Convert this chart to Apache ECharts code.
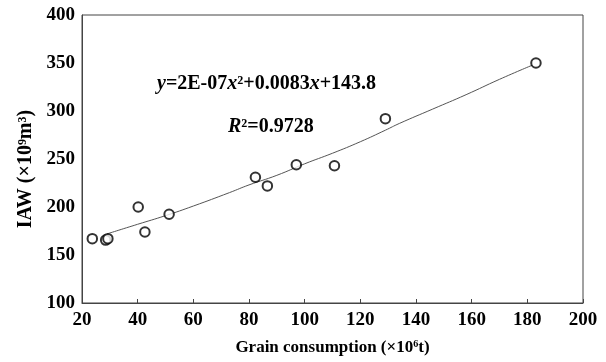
<!DOCTYPE html>
<html><head><meta charset="utf-8">
<script src="https://cdn.jsdelivr.net/npm/echarts@6/dist/echarts.min.js"></script>
<style>html,body{margin:0;padding:0;background:#fff}#c{width:606px;height:362px}</style>
</head><body><div id="c"></div>
<script>
// Observed data: grain consumption (x) vs IAW (y)
const grainX = [23.7, 28.5, 29.3, 40.2, 42.6, 51.3, 82.3, 86.6, 97.0, 110.7, 129.0, 183.1];
const iawY   = [167, 165.5, 167, 200, 174, 192.5, 231, 222, 244, 243, 292, 350];
// Trendline
const trendX = [29, 40, 50, 60, 73, 80, 90, 100, 110, 120, 129, 134, 146, 158, 170, 182];
const trendY = [172, 182, 191, 201, 215, 223, 233, 245, 256, 268, 280, 287, 302, 317, 333, 348];
const xTicks = {min: 20, max: 200, interval: 20};
const yTicks = {min: 100, max: 400, interval: 50};
const equationText = ['y', '=2E-07', 'x', '²+0.0083', 'x', '+143.8'];
const r2Text = ['R', '²=0.9728'];
const xName = 'Grain consumption (×10⁶t)';
const yName = 'IAW (×10⁹m³)';

const font = 'Liberation Serif';
const chart = echarts.init(document.getElementById('c'), null, {renderer: 'canvas'});
const scatterData = grainX.map((x, i) => [x, iawY[i]]);
const trendData = trendX.map((x, i) => [x, trendY[i]]);
const eqRich = equationText.map((t, i) => (i % 2 === 0 ? '{i|' + t + '}' : '{n|' + t + '}')).join('');
const r2Rich = '{i|' + r2Text[0] + '}{n|' + r2Text[1] + '}';
const richStyles = {
  i: {fontFamily: font, fontStyle: 'italic', fontWeight: 'bold', fontSize: 20, fill: '#000'},
  n: {fontFamily: font, fontWeight: 'bold', fontSize: 20, fill: '#000'}
};
chart.setOption({
  animation: false,
  backgroundColor: '#fff',
  grid: {left: 82, top: 15, right: 23, bottom: 59, show: true, borderColor: '#444', borderWidth: 1, backgroundColor: 'transparent'},
  xAxis: {
    type: 'value', min: xTicks.min, max: xTicks.max, interval: xTicks.interval,
    name: xName, nameLocation: 'middle', nameGap: 36,
    nameTextStyle: {fontFamily: font, fontWeight: 'bold', fontSize: 17, color: '#000'},
    axisLine: {lineStyle: {color: '#444', width: 1}},
    axisTick: {show: true, inside: true, length: 4, lineStyle: {color: '#444'}},
    axisLabel: {fontFamily: font, fontWeight: 'bold', fontSize: 19, color: '#000', margin: 8},
    splitLine: {show: false}
  },
  yAxis: {
    type: 'value', min: yTicks.min, max: yTicks.max, interval: yTicks.interval,
    axisLine: {show: true, lineStyle: {color: '#444', width: 1}},
    axisTick: {show: false},
    axisLabel: {fontFamily: font, fontWeight: 'bold', fontSize: 19, color: '#000', margin: 7},
    splitLine: {show: false}
  },
  series: [
    {
      type: 'line', data: trendData, smooth: true, showSymbol: false, symbol: 'none',
      lineStyle: {color: '#555', width: 1}, z: 1
    },
    {
      type: 'scatter', data: scatterData, symbol: 'circle', symbolSize: 9.5,
      itemStyle: {color: '#fff', borderColor: '#000', borderWidth: 2}, z: 2
    }
  ],
  graphic: [
    {type: 'text', left: 157, top: 74, style: {text: eqRich, rich: richStyles}},
    {type: 'text', left: 228, top: 117, style: {text: r2Rich, rich: richStyles}},
    {type: 'text', x: 26, y: 169, rotation: Math.PI / 2,
     style: {text: yName, align: 'center', verticalAlign: 'middle', fill: '#000',
             font: 'bold 20px "Liberation Serif"'}}
  ]
});
</script></body></html>
